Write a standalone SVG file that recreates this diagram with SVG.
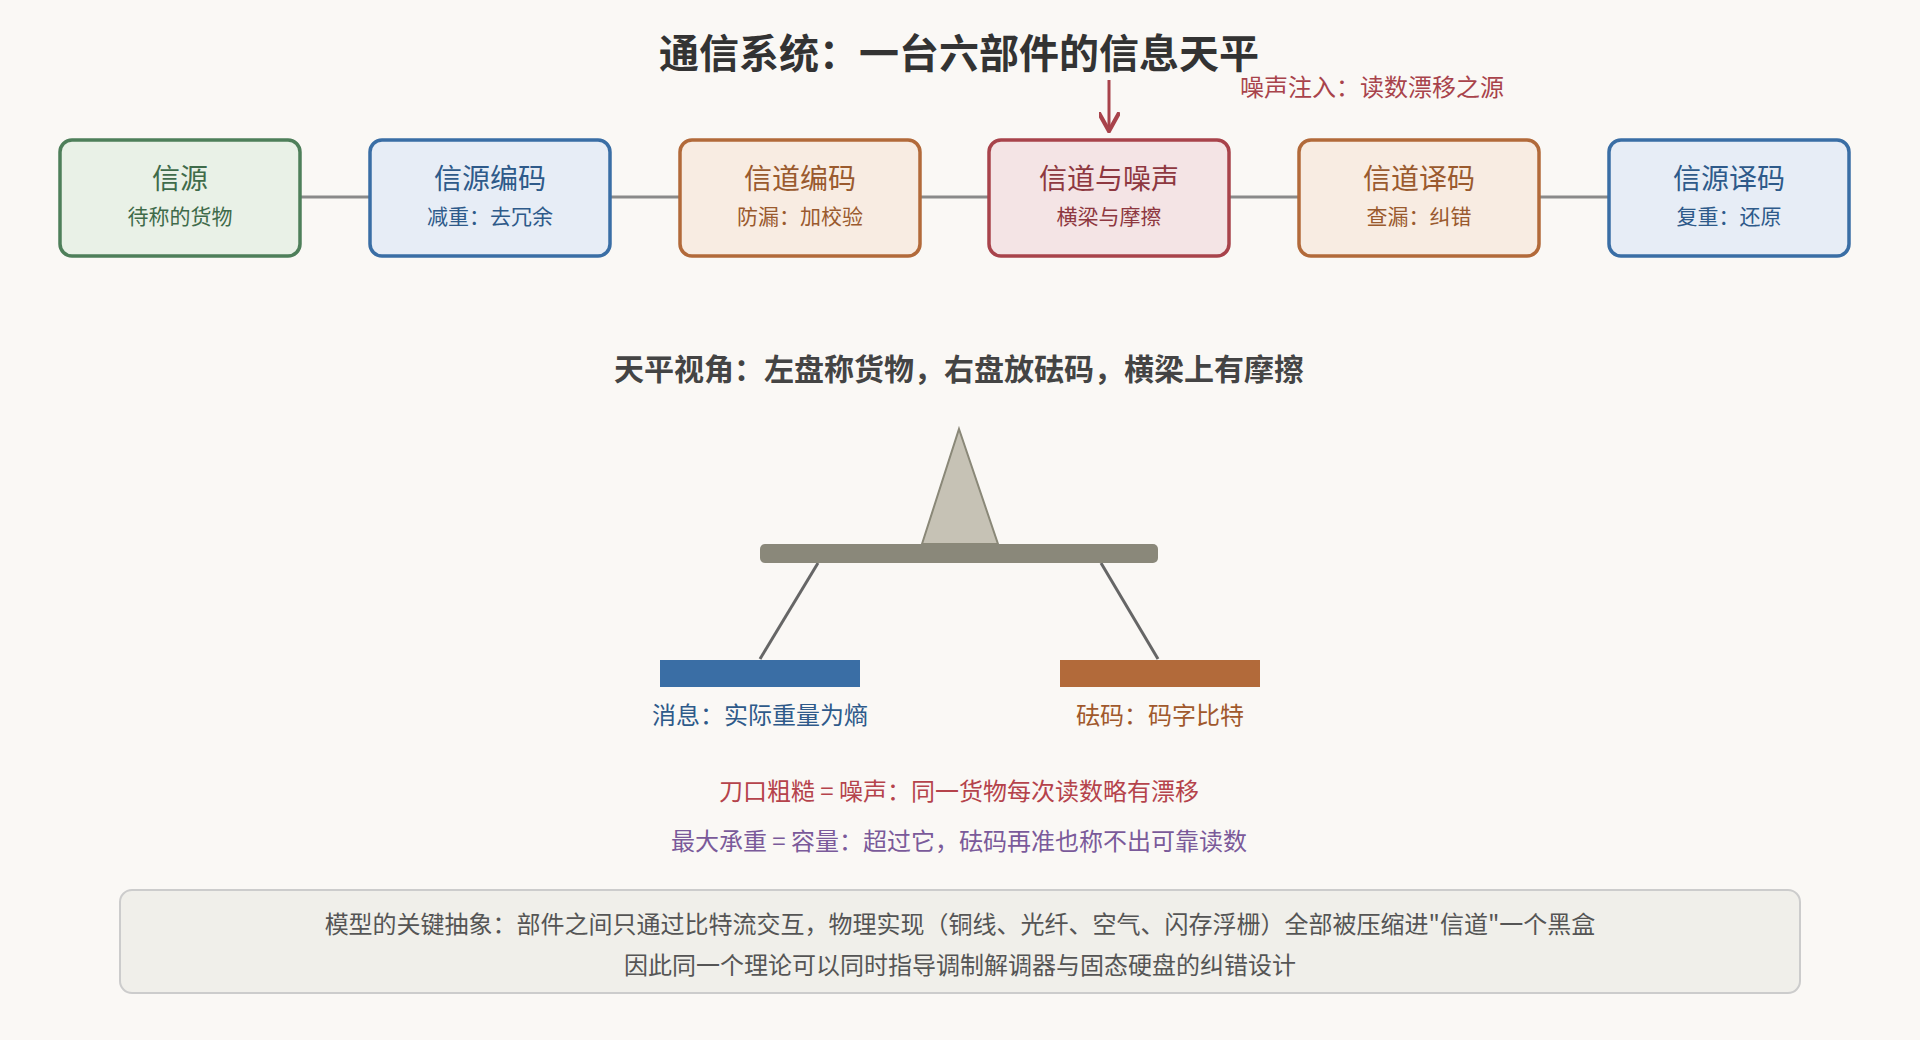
<svg xmlns="http://www.w3.org/2000/svg" width="1920" height="1040" viewBox="0 0 1920 1040">
<defs>
<style>
text{font-family:"Noto Sans CJK SC","Liberation Sans",sans-serif;text-anchor:middle}
.box{stroke-width:3.5}
.g rect{fill:#e9f1e7;stroke:#4e7f5a}.g text{fill:#3f6b4a}
.b rect{fill:#e7edf6;stroke:#3a6ea5}.b text{fill:#2e5a8a}
.o rect{fill:#f8ece2;stroke:#b26a3a}.o text{fill:#9a5a2e}
.r rect{fill:#f4e4e5;stroke:#a8434b}.r text{fill:#8e3840}
.t1{font-size:28px}.t2{font-size:21px}
.conn line{stroke:#8a8a8a;stroke-width:3}
</style>
<marker id="ah" viewBox="0 0 10 10" refX="8" refY="5" markerWidth="7" markerHeight="7" orient="auto"><path d="M0,0 L9,5 L0,10" fill="none" stroke="#a8434b" stroke-width="2"/></marker>
</defs>
<rect width="1920" height="1040" fill="#faf8f5"/>
<text x="959" y="68" font-size="40" font-weight="bold" fill="#333">通信系统：一台六部件的信息天平</text>
<g class="conn">
<line x1="300" y1="197" x2="370" y2="197"/><line x1="610" y1="197" x2="680" y2="197"/><line x1="920" y1="197" x2="989" y2="197"/><line x1="1229" y1="197" x2="1299" y2="197"/><line x1="1539" y1="197" x2="1609" y2="197"/>
<line x1="1109" y1="80" x2="1109" y2="129" style="stroke:#a8434b;stroke-width:3" marker-end="url(#ah)"/>
</g>
<text x="1240" y="96" font-size="24" fill="#a8434b" style="text-anchor:start">噪声注入：读数漂移之源</text>
<g id="n1" class="g"><rect class="box" x="60" y="140" width="240" height="116" rx="12"/><text class="t1" x="180" y="189">信源</text><text class="t2" x="180" y="224">待称的货物</text></g>
<g id="n2" class="b"><rect class="box" x="370" y="140" width="240" height="116" rx="12"/><text class="t1" x="490" y="189">信源编码</text><text class="t2" x="490" y="224">减重：去冗余</text></g>
<g id="n3" class="o"><rect class="box" x="680" y="140" width="240" height="116" rx="12"/><text class="t1" x="800" y="189">信道编码</text><text class="t2" x="800" y="224">防漏：加校验</text></g>
<g id="n4" class="r"><rect class="box" x="989" y="140" width="240" height="116" rx="12"/><text class="t1" x="1109" y="189">信道与噪声</text><text class="t2" x="1109" y="224">横梁与摩擦</text></g>
<g id="n5" class="o"><rect class="box" x="1299" y="140" width="240" height="116" rx="12"/><text class="t1" x="1419" y="189">信道译码</text><text class="t2" x="1419" y="224">查漏：纠错</text></g>
<g id="n6" class="b"><rect class="box" x="1609" y="140" width="240" height="116" rx="12"/><text class="t1" x="1729" y="189">信源译码</text><text class="t2" x="1729" y="224">复重：还原</text></g>
<text x="959" y="380" font-size="30" font-weight="bold" fill="#444">天平视角：左盘称货物，右盘放砝码，横梁上有摩擦</text>
<g id="scale">
<polygon points="959,429 998,544 922,544" fill="#c6c2b5" stroke="#8a8878" stroke-width="2"/>
<line x1="818" y1="563" x2="760" y2="659" stroke="#666" stroke-width="3"/>
<line x1="1101" y1="563" x2="1158" y2="659" stroke="#666" stroke-width="3"/>
<rect x="760" y="544" width="398" height="19" rx="5" fill="#8a887a"/>
<rect x="660" y="660" width="200" height="27" fill="#3a6ea5"/>
<rect x="1060" y="660" width="200" height="27" fill="#b26a3a"/>
</g>
<text x="760" y="724" font-size="24" fill="#2e5a8a">消息：实际重量为熵</text>
<text x="1160" y="724" font-size="24" fill="#a0582c">砝码：码字比特</text>
<text x="959" y="800" font-size="24" fill="#b5434b">刀口粗糙 = 噪声：同一货物每次读数略有漂移</text>
<text x="959" y="850" font-size="24" fill="#7a5a9a">最大承重 = 容量：超过它，砝码再准也称不出可靠读数</text>
<g id="note">
<rect x="120" y="890" width="1680" height="103" rx="12" fill="#f0efea" stroke="#cccccc" stroke-width="2"/>
<text x="960" y="933" font-size="24" fill="#555">模型的关键抽象：部件之间只通过比特流交互，物理实现（铜线、光纤、空气、闪存浮栅）全部被压缩进"信道"一个黑盒</text>
<text x="960" y="974" font-size="24" fill="#555">因此同一个理论可以同时指导调制解调器与固态硬盘的纠错设计</text>
</g>
</svg>
